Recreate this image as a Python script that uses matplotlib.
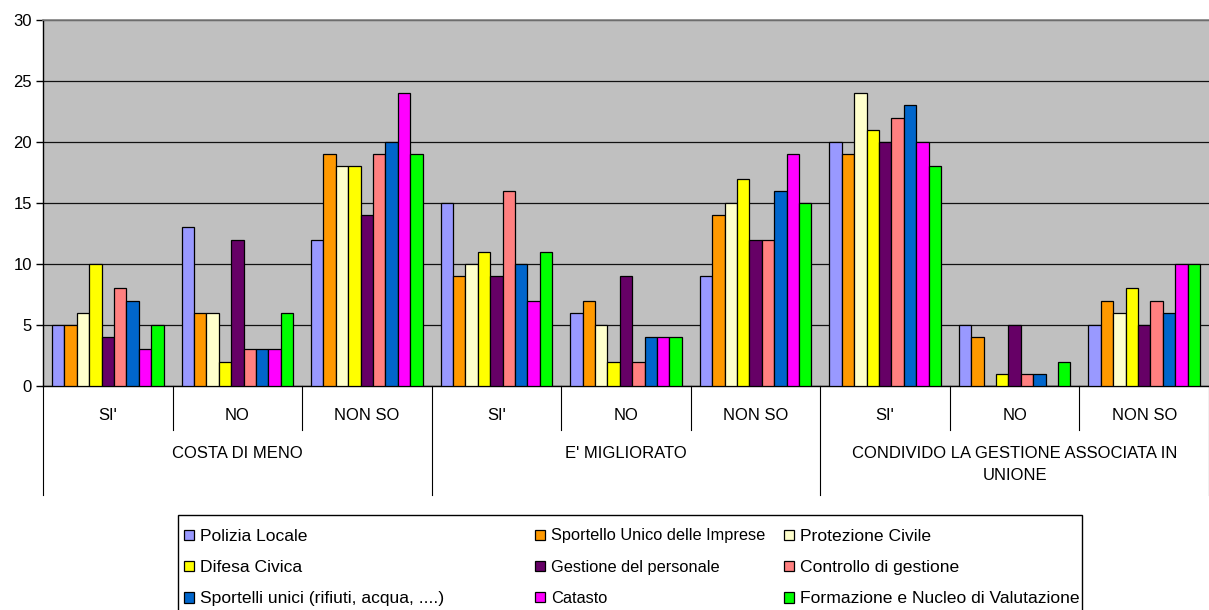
import matplotlib.pyplot as plt
from matplotlib.patches import Rectangle
import numpy as np

plt.rcParams['font.family'] = ['Liberation Sans', 'DejaVu Sans']

groups = ["COSTA DI MENO", "E' MIGLIORATO", "CONDIVIDO LA GESTIONE ASSOCIATA IN\nUNIONE"]
answers = ["SI'", "NO", "NON SO"]

series = [
    "Polizia Locale",
    "Sportello Unico delle Imprese",
    "Protezione Civile",
    "Difesa Civica",
    "Gestione del personale",
    "Controllo di gestione",
    "Sportelli unici (rifiuti, acqua, ....)",
    "Catasto",
    "Formazione e Nucleo di Valutazione",
]
colors = ["#9999FF", "#FF9900", "#FFFFCC", "#FFFF00", "#660066",
          "#FF8080", "#0066CC", "#FF00FF", "#00FF00"]

# one row per series, one column per (group, answer) pair
polizia = [5, 13, 12, 15, 6, 9, 20, 5, 5]
sportello_imprese = [5, 6, 19, 9, 7, 14, 19, 4, 7]
protezione = [6, 6, 18, 10, 5, 15, 24, 0, 6]
difesa = [10, 2, 18, 11, 2, 17, 21, 1, 8]
personale = [4, 12, 14, 9, 9, 12, 20, 5, 5]
controllo = [8, 3, 19, 16, 2, 12, 22, 1, 7]
sportelli_unici = [7, 3, 20, 10, 4, 16, 23, 1, 6]
catasto = [3, 3, 24, 7, 4, 19, 20, 0, 10]
formazione = [5, 6, 19, 11, 4, 15, 18, 2, 10]
values = [polizia, sportello_imprese, protezione, difesa, personale,
          controllo, sportelli_unici, catasto, formazione]

W, H = 1209, 610
fig = plt.figure(figsize=(W / 100, H / 100), dpi=100)
x0, x1, ytop, ybot = 43, 1209, 20, 386
ax = fig.add_axes([x0 / W, (H - ybot) / H, (x1 - x0) / W, (ybot - ytop) / H])
ax.set_facecolor("#C0C0C0")

n = len(series)
bw = 0.0957
start = (1 - n * bw) / 2
xs = np.arange(len(values[0]))
handles = []
for i, (name, vals, c) in enumerate(zip(series, values, colors)):
    b = ax.bar(xs + start + bw * (i + 0.5), vals, width=bw, color=c,
               edgecolor="black", linewidth=0.9, label=name, zorder=3)
    handles.append(b)

ax.set_xlim(0, 9)
ax.set_ylim(0, 30)
ax.set_yticks(range(0, 31, 5))
ax.yaxis.grid(True, color="#111111", linewidth=0.9, zorder=1)
ax.set_xticks([])
ax.tick_params(axis="y", length=5, width=1, labelsize=12, pad=3)
ax.spines["right"].set_visible(False)
ax.spines["top"].set_color("#808080")
ax.spines["top"].set_linewidth(1.2)
ax.spines["left"].set_linewidth(1)
ax.spines["bottom"].set_linewidth(1)

# category table under the x axis
hgt = ybot - ytop
def fy(py):
    return -(py - ybot) / hgt

trans = ax.get_xaxis_transform()
for k in range(10):
    bottom = fy(495) if k % 3 == 0 else fy(430)
    ax.plot([k, k], [0, bottom], color="black", linewidth=0.8,
            transform=trans, clip_on=False)
for k in range(9):
    ax.text(k + 0.5, fy(416), answers[k % 3], ha="center", va="center",
            fontsize=12, transform=trans)
for g, label in enumerate(groups):
    ax.text(3 * g + 1.5, fy(446), label, ha="center", va="top",
            fontsize=12, linespacing=1.6, transform=trans)

# legend laid out in three columns inside one box
fig.patches.append(Rectangle((178 / W, -0.02), (1082 - 178) / W, (H - 515) / H + 0.02,
                             transform=fig.transFigure, fill=False,
                             edgecolor="black", linewidth=1))
col_x = [172, 524, 772]
col_size = [12.6, 11.8, 12.6]
for c in range(3):
    idx = [c, c + 3, c + 6]
    leg = fig.legend([handles[i] for i in idx], [series[i] for i in idx],
                     loc="upper left", bbox_to_anchor=(col_x[c] / W, (H - 517) / H),
                     frameon=False, fontsize=col_size[c],
                     handlelength=0.55 * 12.6 / col_size[c],
                     handleheight=0.55 * 12.6 / col_size[c], handletextpad=0.35,
                     labelspacing=0.92 * 12.6 / col_size[c], borderpad=0.2)

fig.savefig("out.png", dpi=100)
